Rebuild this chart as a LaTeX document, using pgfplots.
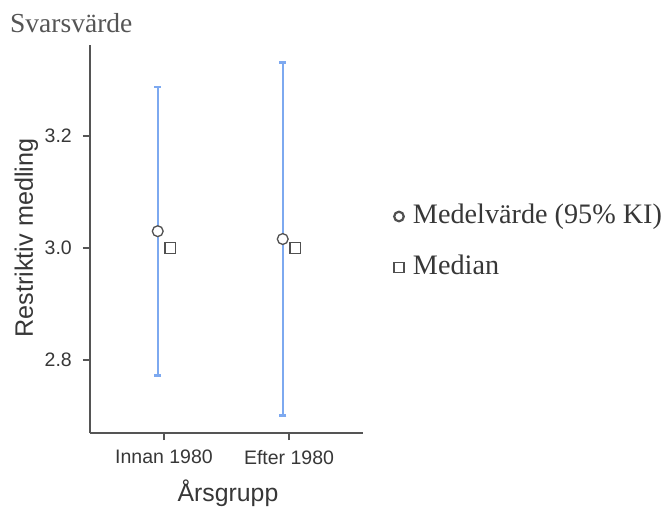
\documentclass[border=0pt]{standalone}
\usepackage{fontspec}
\setmainfont{Liberation Serif}
\setsansfont{Liberation Sans}
\usepackage{pgfplots}
\pgfplotsset{compat=1.18}
\definecolor{barblue}{RGB}{125,169,240}
\definecolor{markgray}{RGB}{80,80,80}
\definecolor{axisgray}{RGB}{85,85,85}
\definecolor{textgray}{RGB}{55,55,55}
\definecolor{titlegray}{RGB}{85,85,85}
\begin{document}
\begin{tikzpicture}
\begin{axis}[
  name=ax,
  at={(0pt,0pt)}, anchor=south west,
  scale only axis,
  width=273pt, height=388pt,
  xmin=0.408, xmax=2.592,
  ymin=2.6696, ymax=3.3625,
  axis lines*=left,
  axis line style={draw=axisgray, line width=1.4pt},
  xtick={1,2},
  xticklabels={Innan 1980, Efter 1980},
  ytick={2.8,3.0,3.2},
  yticklabel style={/pgf/number format/fixed, /pgf/number format/fixed zerofill, /pgf/number format/precision=1},
  /pgf/number format/assume math mode=true,
  tick align=outside,
  major tick length=7pt,
  tick style={draw=axisgray, line width=1.4pt},
  xtick pos=bottom, ytick pos=left,
  tick label style={font=\sffamily\fontsize{19.5}{22}\selectfont, text=textgray, inner sep=0pt},
  xticklabel style={anchor=north, yshift=-10pt},
  yticklabel style={anchor=east, xshift=-11pt},
  every axis x label/.style={at={(axis description cs:0.5055,-0.1778)}, anchor=base, font=\sffamily\fontsize{24.8}{28}\selectfont, text=textgray},
  every axis y label/.style={at={(axis description cs:-0.2088,0.5026)}, anchor=base, rotate=90, font=\sffamily\fontsize{25.2}{28}\selectfont, text=textgray},
  xlabel={Årsgrupp},
  ylabel={Restriktiv medling},
  clip=false,
  legend image code/.code={\draw[#1] plot coordinates {(0pt,0pt)};},
  legend cell align=left,
  legend style={at={(axis description cs:1.1135,0.5902)}, anchor=north west,
    draw=none, fill=none, inner sep=0pt, outer sep=0pt,
    row sep=26pt, column sep=9pt,
    font=\rmfamily\fontsize{28.2}{30}\selectfont, text=textgray,
    nodes={inner sep=0pt, text height=19pt, text depth=6pt}},
]
% 95% CI error bars (mean +- half width)
\addplot[forget plot, only marks, mark=none,
  error bars/.cd, y dir=both, y explicit,
  error bar style={line width=2.3pt, draw=barblue},
  error mark options={rotate=90, mark size=3.5pt, line width=2.3pt, draw=barblue}]
  coordinates {(0.95,3.030) +- (0,0.2575) (1.95,3.016) +- (0,0.315)};
% means
\addplot[forget plot, only marks, mark=*, mark size=5.4pt,
  mark options={fill=white, draw=markgray, line width=1.3pt}]
  coordinates {(0.95,3.030) (1.95,3.016)};
% medians
\addplot[forget plot, only marks, mark=square*, mark size=5.2pt,
  mark options={fill=white, draw=markgray, line width=1.3pt}]
  coordinates {(1.05,3.0) (2.05,3.0)};
\addlegendimage{only marks, mark=o, mark size=4.8pt, mark options={draw=markgray, line width=2.2pt}}
\addlegendentry{Medelvärde (95\% KI)}
\addlegendimage{only marks, mark=square, mark size=5pt, mark options={draw=markgray, line width=1.2pt}}
\addlegendentry{Median}
\end{axis}
\node[anchor=base west, font=\rmfamily\fontsize{27.5}{30}\selectfont, text=titlegray, inner sep=0pt] at (-80pt,400pt) {Svarsvärde};
\pgfresetboundingbox
\path[use as bounding box] (-90pt,-74pt) rectangle (577pt,433pt);
\end{tikzpicture}
\end{document}
